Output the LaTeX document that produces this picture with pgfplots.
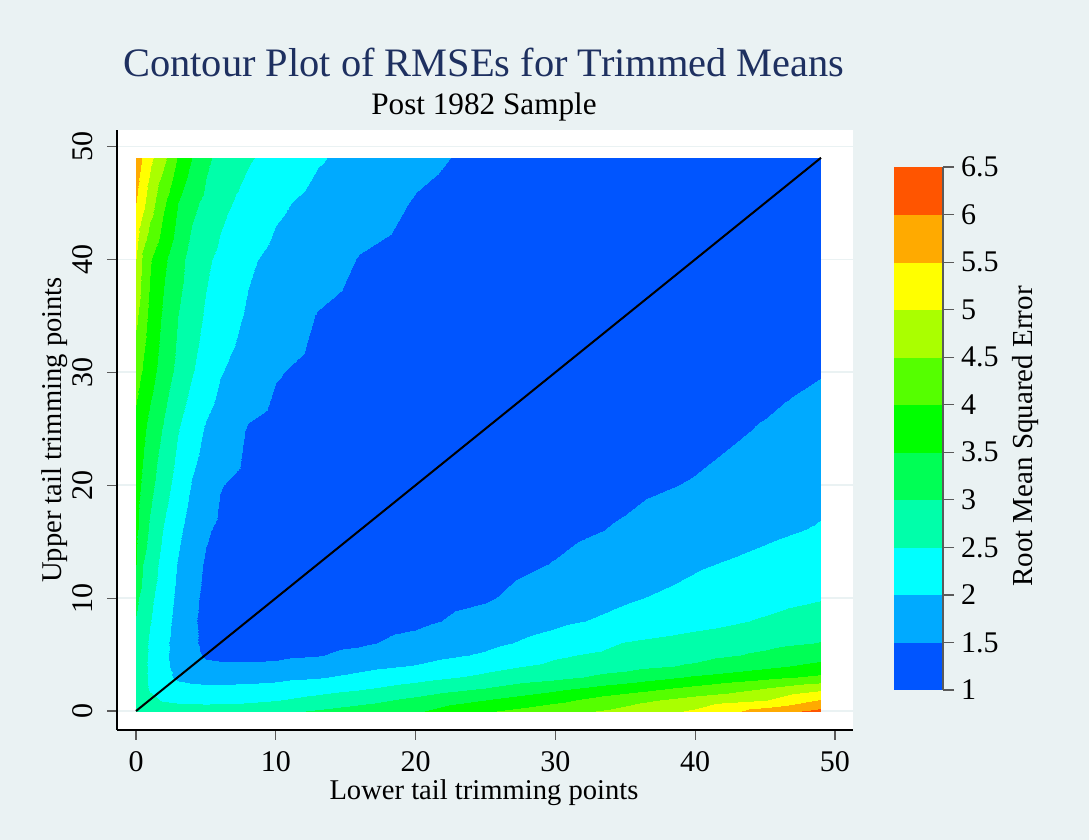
\documentclass[border=0pt]{standalone}
\usepackage{fontspec}
\setmainfont{Liberation Serif}
\usepackage{pgfplots}
\pgfplotsset{compat=1.18}
\definecolor{bgc}{RGB}{234,242,243}
\definecolor{titlec}{RGB}{30,48,96}
\definecolor{tickc}{RGB}{90,90,90}
\begin{document}
\begin{tikzpicture}
\fill[bgc] (0,0) rectangle (544.5pt,420pt);
\useasboundingbox (0,0) rectangle (544.5pt,420pt);
\begin{axis}[
  at={(58.5pt,55pt)}, anchor=south west,
  scale only axis, width=368pt, height=300pt,
  xmin=-1.36, xmax=51.29, ymin=-1.68, ymax=51.46,
  xtick={0,10,...,50}, ytick={0,10,...,50},
  axis x line*=bottom, axis y line*=left,
  axis line style={black, line width=0.6pt, -},
  tick align=outside, major tick length=5pt,
  tick style={tickc, line width=0.6pt},
  ymajorgrids, grid style={bgc, line width=0.8pt},
  tick label style={font=\fontsize{15}{15}\selectfont},
  /pgf/number format/assume math mode=true,
  yticklabel style={rotate=90, anchor=south, yshift=3.5pt},
  xticklabel style={yshift=-2pt},
  axis background/.style={fill=white},
  colormap={rmse}{rgb255=(0,85,255) rgb255=(0,170,255) rgb255=(0,255,255)
    rgb255=(0,255,170) rgb255=(0,255,85) rgb255=(0,255,0) rgb255=(85,255,0)
    rgb255=(170,255,0) rgb255=(255,255,0) rgb255=(255,170,0) rgb255=(255,85,0)},
  colormap access=piecewise constant,
  point meta min=1, point meta max=6.5,
  colorbar,
  colorbar style={
    at={(parent axis.south east)}, anchor=south west, xshift=12pt, yshift=20pt,
    width=24.5pt, height=261.5pt,
    ytick={1,1.5,...,6.5},
    yticklabel pos=right,
    axis x line=none, axis y line*=right,
    axis line style={tickc, line width=0.6pt, -},
    tick align=outside, major tick length=5.5pt,
    tick style={tickc, line width=0.6pt},
    yticklabel style={font=\fontsize{15}{15}\selectfont, /pgf/number format/assume math mode=true},
    ylabel={Root Mean Squared Error},
    ylabel style={font=\fontsize{14.5}{14.5}\selectfont, xshift=-4pt},
  },
]
\addplot[surf, shader=interp, mesh/rows=18, mesh/cols=19, point meta=explicit] coordinates {
(0,0)[2.75] (0.5,0)[2.75] (1,0)[2.75] (2,0)[2.75] (3,0)[2.75] (4,0)[2.75] (5,0)[2.75] (6,0)[2.77] (8,0)[2.8] (10,0)[2.88] (13,0)[3.05] (16,0)[3.22] (20,0)[3.44] (25,0)[3.94] (30,0)[4.3] (35,0)[4.65] (40,0)[5.07] (45,0)[5.72] (49,0)[6.15]
(0,1)[2.77] (0.5,1)[2.69] (1,1)[2.6] (2,1)[2.45] (3,1)[2.4] (4,1)[2.37] (5,1)[2.35] (6,1)[2.35] (8,1)[2.4] (10,1)[2.48] (13,1)[2.66] (16,1)[2.84] (20,1)[3.12] (25,1)[3.5] (30,1)[3.87] (35,1)[4.32] (40,1)[4.69] (45,1)[4.98] (49,1)[5.54]
(0,2)[2.8] (0.5,2)[2.63] (1,2)[2.45] (2,2)[2.25] (3,2)[2.15] (4,2)[2.1] (5,2)[2.08] (6,2)[2.08] (8,2)[2.1] (10,2)[2.15] (13,2)[2.3] (16,2)[2.44] (20,2)[2.69] (25,2)[3.0] (30,2)[3.37] (35,2)[3.74] (40,2)[4.12] (45,2)[4.49] (49,2)[4.85]
(0,3)[2.82] (0.5,3)[2.61] (1,3)[2.43] (2,3)[2.13] (3,3)[1.92] (4,3)[1.86] (5,3)[1.84] (6,3)[1.83] (8,3)[1.84] (10,3)[1.88] (13,3)[1.96] (16,3)[2.12] (20,3)[2.33] (25,3)[2.6] (30,3)[2.87] (35,3)[3.19] (40,3)[3.56] (45,3)[3.86] (49,3)[4.1]
(0,4)[2.85] (0.5,4)[2.62] (1,4)[2.42] (2,4)[2.1] (3,4)[1.85] (4,4)[1.65] (5,4)[1.58] (6,4)[1.56] (8,4)[1.56] (10,4)[1.58] (13,4)[1.7] (16,4)[1.87] (20,4)[2.03] (25,4)[2.35] (30,4)[2.61] (35,4)[2.83] (40,4)[3.07] (45,4)[3.39] (49,4)[3.64]
(0,5)[2.87] (0.5,5)[2.63] (1,5)[2.42] (2,5)[2.07] (3,5)[1.85] (4,5)[1.6] (5,5)[1.45] (6,5)[1.42] (8,5)[1.4] (10,5)[1.42] (13,5)[1.48] (16,5)[1.61] (20,5)[1.8] (25,5)[2.06] (30,5)[2.43] (35,5)[2.66] (40,5)[2.85] (45,5)[3.08] (49,5)[3.31]
(0,6)[2.9] (0.5,6)[2.67] (1,6)[2.43] (2,6)[2.1] (3,6)[1.82] (4,6)[1.56] (5,6)[1.42] (6,6)[1.35] (8,6)[1.32] (10,6)[1.33] (13,6)[1.38] (16,6)[1.45] (20,6)[1.62] (25,6)[1.88] (30,6)[2.19] (35,6)[2.52] (40,6)[2.7] (45,6)[2.88] (49,6)[3.02]
(0,8)[2.97] (0.5,8)[2.74] (1,8)[2.52] (2,8)[2.16] (3,8)[1.85] (4,8)[1.56] (5,8)[1.38] (6,8)[1.3] (8,8)[1.25] (10,8)[1.24] (13,8)[1.27] (16,8)[1.32] (20,8)[1.42] (25,8)[1.64] (30,8)[1.9] (35,8)[2.13] (40,8)[2.33] (45,8)[2.55] (49,8)[2.73]
(0,10)[3.1] (0.5,10)[2.81] (1,10)[2.6] (2,10)[2.23] (3,10)[1.9] (4,10)[1.6] (5,10)[1.4] (6,10)[1.3] (8,10)[1.22] (10,10)[1.2] (13,10)[1.2] (16,10)[1.24] (20,10)[1.32] (25,10)[1.46] (30,10)[1.72] (35,10)[1.95] (40,10)[2.14] (45,10)[2.33] (49,10)[2.47]
(0,13)[3.52] (0.5,13)[3.0] (1,13)[2.75] (2,13)[2.32] (3,13)[1.97] (4,13)[1.67] (5,13)[1.45] (6,13)[1.33] (8,13)[1.22] (10,13)[1.18] (13,13)[1.15] (16,13)[1.16] (20,13)[1.2] (25,13)[1.32] (30,13)[1.52] (35,13)[1.74] (40,13)[1.95] (45,13)[2.12] (49,13)[2.26]
(0,16)[3.6] (0.5,16)[3.25] (1,16)[2.92] (2,16)[2.46] (3,16)[2.1] (4,16)[1.79] (5,16)[1.55] (6,16)[1.42] (8,16)[1.28] (10,16)[1.2] (13,16)[1.14] (16,16)[1.12] (20,16)[1.14] (25,16)[1.22] (30,16)[1.38] (35,16)[1.55] (40,16)[1.73] (45,16)[1.91] (49,16)[2.04]
(0,20)[3.68] (0.5,20)[3.41] (1,20)[3.14] (2,20)[2.69] (3,20)[2.3] (4,20)[1.97] (5,20)[1.76] (6,20)[1.52] (8,20)[1.38] (10,20)[1.28] (13,20)[1.18] (16,20)[1.13] (20,20)[1.11] (25,20)[1.14] (30,20)[1.25] (35,20)[1.4] (40,20)[1.53] (45,20)[1.7] (49,20)[1.87]
(0,25)[3.85] (0.5,25)[3.6] (1,25)[3.35] (2,25)[2.94] (3,25)[2.52] (4,25)[2.21] (5,25)[1.95] (6,25)[1.78] (8,25)[1.47] (10,25)[1.37] (13,25)[1.25] (16,25)[1.17] (20,25)[1.12] (25,25)[1.1] (30,25)[1.13] (35,25)[1.22] (40,25)[1.36] (45,25)[1.53] (49,25)[1.67]
(0,30)[4.2] (0.5,30)[3.95] (1,30)[3.7] (2,30)[3.25] (3,30)[2.87] (4,30)[2.53] (5,30)[2.28] (6,30)[2.03] (8,30)[1.77] (10,30)[1.53] (13,30)[1.38] (16,30)[1.25] (20,30)[1.16] (25,30)[1.11] (30,30)[1.1] (35,30)[1.15] (40,30)[1.24] (45,30)[1.36] (49,30)[1.48]
(0,35)[4.6] (0.5,35)[4.19] (1,35)[3.88] (2,35)[3.4] (3,35)[3.0] (4,35)[2.7] (5,35)[2.44] (6,35)[2.25] (8,35)[1.94] (10,35)[1.74] (13,35)[1.48] (16,35)[1.35] (20,35)[1.23] (25,35)[1.15] (30,35)[1.12] (35,35)[1.12] (40,35)[1.17] (45,35)[1.25] (49,35)[1.33]
(0,40)[5.0] (0.5,40)[4.38] (1,40)[4.05] (2,40)[3.59] (3,40)[3.19] (4,40)[2.81] (5,40)[2.58] (6,40)[2.4] (8,40)[2.07] (10,40)[1.88] (13,40)[1.69] (16,40)[1.48] (20,40)[1.34] (25,40)[1.22] (30,40)[1.16] (35,40)[1.13] (40,40)[1.14] (45,40)[1.18] (49,40)[1.22]
(0,45)[5.5] (0.5,45)[5.12] (1,45)[4.73] (2,45)[4.06] (3,45)[3.5] (4,45)[3.12] (5,45)[2.88] (6,45)[2.63] (8,45)[2.33] (10,45)[2.08] (13,45)[1.86] (16,45)[1.7] (20,45)[1.47] (25,45)[1.3] (30,45)[1.2] (35,45)[1.15] (40,45)[1.14] (45,45)[1.15] (49,45)[1.17]
(0,49)[5.8] (0.5,49)[5.44] (1,49)[5.12] (2,49)[4.61] (3,49)[3.95] (4,49)[3.5] (5,49)[3.1] (6,49)[2.85] (8,49)[2.55] (10,49)[2.33] (13,49)[2.04] (16,49)[1.85] (20,49)[1.6] (25,49)[1.4] (30,49)[1.3] (35,49)[1.24] (40,49)[1.2] (45,49)[1.18] (49,49)[1.18]
};
\addplot[black, line width=1pt] coordinates {(0,0) (49,49)};
\end{axis}
\node[font=\fontsize{20.2}{20.2}\selectfont, text=titlec] at (242pt,389pt) {Contour Plot of RMSEs for Trimmed Means};
\node[font=\fontsize{15.6}{15.6}\selectfont] at (242pt,366.5pt) {Post 1982 Sample};
\node[font=\fontsize{14.3}{14.3}\selectfont] at (242pt,23.5pt) {Lower tail trimming points};
\node[font=\fontsize{14.3}{14.3}\selectfont, rotate=90] at (27.5pt,205pt) {Upper tail trimming points};
\end{tikzpicture}
\end{document}
